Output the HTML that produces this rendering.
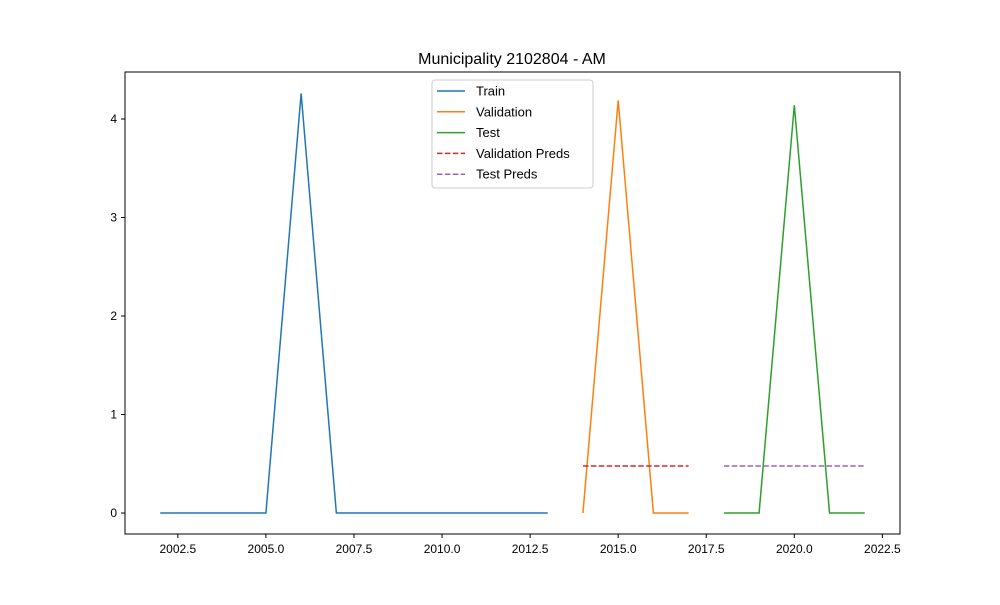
<!DOCTYPE html>
<html><head><meta charset="utf-8"><style>
body{margin:0;background:#fff;}
svg{font-family:"Liberation Sans","DejaVu Sans",sans-serif;}
</style></head><body>
<svg id="chart" width="1000" height="600" xmlns="http://www.w3.org/2000/svg">
<rect width="1000" height="600" fill="#fff"/>
<text x="512" y="64" font-size="16" text-anchor="middle">Municipality 2102804 - AM</text>
<g id="plot"></g>
<rect x="125" y="72" width="775" height="462" fill="none" stroke="#000" stroke-width="1"/>
<g id="legend">
<rect x="432" y="80" width="161" height="108" rx="3" fill="#fff" fill-opacity="0.8" stroke="#ccc"/>
</g>
</svg>
<script>
const trainYears=[2002,2003,2004,2005,2006,2007,2008,2009,2010,2011,2012,2013];
const trainVals=[0,0,0,0,4.26,0,0,0,0,0,0,0];
const valYears=[2014,2015,2016,2017];
const valVals=[0,4.19,0,0];
const testYears=[2018,2019,2020,2021,2022];
const testVals=[0,0,4.14,0,0];
const valPredVals=[0.477,0.477,0.477,0.477];
const testPredVals=[0.477,0.477,0.477,0.477,0.477];
const xTicks=[2002.5,2005,2007.5,2010,2012.5,2015,2017.5,2020,2022.5];
const yTicks=[0,1,2,3,4];
const xMin=2001,xMax=2023,yMin=-0.213,yMax=4.477;
const L=125,R=900,T=72,B=534;
const sx=v=>L+(v-xMin)/(xMax-xMin)*(R-L);
const sy=v=>B-(v-yMin)/(yMax-yMin)*(B-T);
const NS="http://www.w3.org/2000/svg";
const plot=document.getElementById('plot');
function mk(tag,attrs,parent){const e=document.createElementNS(NS,tag);for(const k in attrs)e.setAttribute(k,attrs[k]);(parent||plot).appendChild(e);return e;}
xTicks.forEach(t=>{
 const g=mk('g',{});
 
 
 mk('line',{x1:sx(t),x2:sx(t),y1:B,y2:B+4,stroke:'#000'},g);
 const tx=mk('text',{x:sx(t),y:B+19,'font-size':12,'text-anchor':'middle'},g);tx.textContent=t.toFixed(1);
});
yTicks.forEach(t=>{
 const g=mk('g',{});
 
 
 mk('line',{x1:L-4,x2:L,y1:sy(t),y2:sy(t),stroke:'#000'},g);
 const tx=mk('text',{x:L-8,y:sy(t)+4,'font-size':12,'text-anchor':'end'},g);tx.textContent=t;
});
function series(xs,ys,color,dash,name){
 const p=mk('polyline',{points:xs.map((x,i)=>sx(x)+','+sy(ys[i])).join(' '),fill:'none',stroke:color,'stroke-width':1.5});
 if(dash)p.setAttribute('stroke-dasharray','5.5,2.4');
 
 
}
series(trainYears,trainVals,'#1f77b4',false,'train-line');
series(valYears,valVals,'#ff7f0e',false,'validation-line');
series(testYears,testVals,'#2ca02c',false,'test-line');
series(valYears,valPredVals,'#d62728',true,'validation-preds-line');
series(testYears,testPredVals,'#9467bd',true,'test-preds-line');
const leg=document.getElementById('legend');
const items=[['Train','#1f77b4',false],['Validation','#ff7f0e',false],['Test','#2ca02c',false],['Validation Preds','#d62728',true],['Test Preds','#9467bd',true]];
items.forEach((it,i)=>{
 const y=91+i*20.8;
 const g=mk('g',{},leg);
 
 
 const l=mk('line',{x1:437,x2:465,y1:y,y2:y,stroke:it[1],'stroke-width':1.5},g);
 if(it[2])l.setAttribute('stroke-dasharray','5.5,2.4');
 const t=mk('text',{x:476,y:y+4.5,'font-size':13},g);t.textContent=it[0];
});
</script>
</body></html>
